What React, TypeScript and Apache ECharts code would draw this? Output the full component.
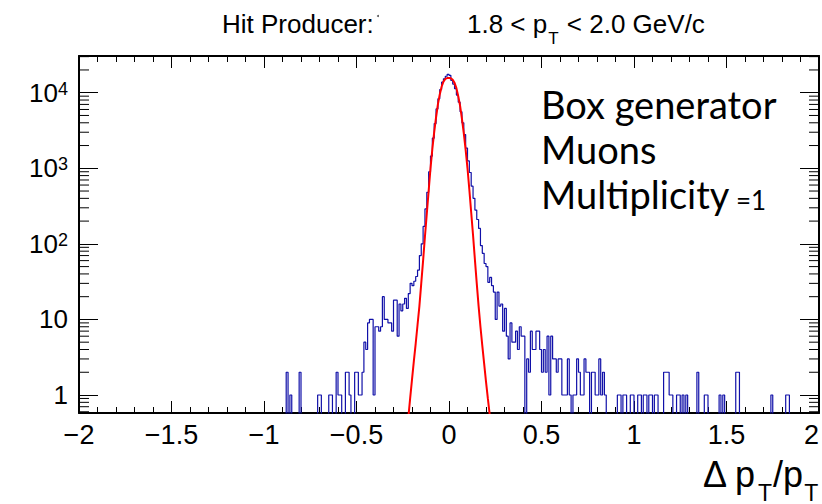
import React, { useEffect, useRef } from 'react';
import * as echarts from 'echarts';

// ---------------- data ----------------
// Histogram of delta pT / pT: bin width 0.01, first listed bin starts at -0.88
const BIN_WIDTH = 0.01;
const FIRST_BIN_LOW_EDGE = -0.88;
const COUNTS: number[] = [
  // -0.88 .. -0.79
  2, 0, 1, 0, 0, 0, 0, 2, 0, 0,
  // -0.78 .. -0.69
  0, 0, 0, 0, 0, 0, 0, 1, 1, 0,
  // -0.68 .. -0.59
  0, 0, 0, 1, 1, 0, 0, 2, 1, 1,
  // -0.58 .. -0.49
  0, 0, 2, 2, 1, 0, 0, 2, 2, 1,
  // -0.48 .. -0.39
  1, 2, 5, 4, 9, 10, 10, 1, 8, 8,
  // -0.38 .. -0.29
  7, 8, 20, 10, 10, 9, 9, 7, 18, 18,
  // -0.28 .. -0.19
  6, 16, 13, 16, 19, 14, 22, 30, 28, 32,
  // -0.18 .. -0.09
  37, 45, 70, 100, 170, 290, 480, 900, 1450, 2500,
  // -0.08 .. 0.01
  3900, 6100, 8300, 11000, 13800, 15300, 16500, 17500, 17000, 14500,
  // 0.02 .. 0.11
  13000, 11300, 9300, 7500, 5600, 4000, 2800, 1850, 1250, 880,
  // 0.12 .. 0.21
  580, 400, 280, 210, 160, 95, 75, 55, 50, 31,
  // 0.22 .. 0.31
  36, 28, 23, 10, 23, 15, 16, 7, 14, 6,
  // 0.32 .. 0.41
  3, 9, 5, 5, 7, 4, 8, 6, 6, 0,
  // 0.42 .. 0.51
  3, 2, 7, 4, 4, 7, 7, 4, 2, 4,
  // 0.52 .. 0.61
  2, 6, 1, 6, 3, 3, 2, 3, 3, 1,
  // 0.62 .. 0.71
  1, 1, 3, 1, 0, 1, 1, 3, 2, 1,
  // 0.72 .. 0.81
  1, 3, 2, 2, 0, 2, 2, 1, 1, 3,
  // 0.82 .. 0.91
  1, 2, 1, 0, 0, 0, 0, 0, 0, 1,
  // 0.92 .. 1.01
  1, 0, 1, 1, 0, 0, 1, 1, 0, 0,
  // 1.02 .. 1.11
  1, 1, 0, 1, 1, 0, 1, 1, 0, 1,
  // 1.12 .. 1.21
  1, 0, 0, 0, 2, 2, 2, 1, 1, 0,
  // 1.22 .. 1.31
  0, 1, 1, 0, 1, 0, 1, 0, 0, 0,
  // 1.32 .. 1.41
  0, 0, 2, 0, 0, 0, 1, 1, 0, 0,
  // 1.42 .. 1.51
  0, 0, 0, 0, 1, 0, 1, 0, 0, 0,
  // 1.52 .. 1.61
  0, 0, 0, 2, 2, 0, 0, 0, 0, 0,
  // 1.62 .. 1.71
  0, 0, 0, 0, 0, 0, 0, 0, 0, 0,
  // 1.72 .. 1.81
  0, 0, 1, 0, 0, 0, 0, 0, 0, 0,
  // 1.82 .. 1.83
  1, 1,
];

// Gaussian fit curve
const FIT_X: number[] = [
  -0.23, -0.22, -0.21, -0.2, -0.19, -0.18, -0.17, -0.16, -0.15, -0.14, -0.13, -0.12,
  -0.11, -0.1, -0.09, -0.08, -0.07, -0.06, -0.05, -0.04, -0.03, -0.02, -0.01, 0,
  0.01, 0.02, 0.03, 0.04, 0.05, 0.06, 0.07, 0.08, 0.09, 0.1, 0.11, 0.12,
  0.13, 0.14, 0.15, 0.16, 0.17, 0.18, 0.19, 0.2, 0.21, 0.22, 0.23,
];
const FIT_Y: number[] = [
  0.25, 0.5, 0.9, 1.6, 2.8, 4.8, 8.5, 15, 30, 60, 125, 250,
  500, 1000, 1800, 3000, 4700, 7000, 9500, 12000, 14000, 15200, 15600, 15600,
  15500, 14800, 13500, 11500, 9000, 6700, 4500, 2900, 1750, 1000, 520, 260,
  130, 62, 30, 15, 8, 4.5, 2.6, 1.5, 0.9, 0.55, 0.3,
];

const X_MIN = -2;
const X_MAX = 2;
const X_TICK_VALUES = [-2, -1.5, -1, -0.5, 0, 0.5, 1, 1.5, 2];
const X_TICK_LABELS = ['\u22122', '\u22121.5', '\u22121', '\u22120.5', '0', '0.5', '1', '1.5', '2'];

const Y_MIN = 0.578;
const Y_MAX = 30600;
const Y_TICK_VALUES = [1, 10, 100, 1000, 10000];
const Y_TICK_BASE = ['1', '10', '10', '10', '10'];
const Y_TICK_EXP = ['', '', '2', '3', '4'];
const Y_MINOR_TICKS = [
  0.6, 0.7, 0.8, 0.9,
  2, 3, 4, 5, 6, 7, 8, 9,
  20, 30, 40, 50, 60, 70, 80, 90,
  200, 300, 400, 500, 600, 700, 800, 900,
  2000, 3000, 4000, 5000, 6000, 7000, 8000, 9000,
  20000, 30000,
];

const TITLE_LEFT = 'Hit Producer:';
const TITLE_RIGHT_A = '1.8 < p';
const TITLE_RIGHT_SUB = 'T';
const TITLE_RIGHT_B = ' < 2.0 GeV/c';
const BOX_LINE_1 = 'Box generator';
const BOX_LINE_2 = 'Muons';
const BOX_LINE_3A = 'Multiplicity';
const BOX_LINE_3B = ' =1';
const X_TITLE = ['\u0394 p', 'T', '/p', 'T'];

// ---------------- styles ----------------
const AXIS_FONT = "'Liberation Sans', Arial, Helvetica, sans-serif";
const BOX_FONT = "Lato, 'Open Sans', sans-serif";
const ZERO_FLOOR = 0.05; // empty bins fall below the visible log range
const BLUE = '#1010a8';
const RED = '#ff0000';
const MINOR_Y_LEN = 10;

function buildHistogram(): [number, number][] {
  const pts: [number, number][] = [];
  pts.push([FIRST_BIN_LOW_EDGE, ZERO_FLOOR]);
  COUNTS.forEach((c, i) => {
    const lo = FIRST_BIN_LOW_EDGE + i * BIN_WIDTH;
    const hi = lo + BIN_WIDTH;
    const v = c > 0 ? c : ZERO_FLOOR;
    pts.push([lo, v], [hi, v]);
  });
  pts.push([FIRST_BIN_LOW_EDGE + COUNTS.length * BIN_WIDTH, ZERO_FLOOR]);
  return pts;
}

function xFormatter(v: number): string {
  const idx = X_TICK_VALUES.findIndex((t) => Math.abs(t - v) < 1e-9);
  return idx >= 0 ? X_TICK_LABELS[idx] : '';
}

function yFormatter(v: number): string {
  const idx = Y_TICK_VALUES.findIndex((t) => Math.abs(Math.log10(t) - Math.log10(v)) < 1e-6);
  if (idx < 0) return '';
  const exp = Y_TICK_EXP[idx];
  return exp ? `{b|${Y_TICK_BASE[idx]}}{s|${exp}}` : `{b|${Y_TICK_BASE[idx]}}`;
}

export default function App() {
  const ref = useRef<HTMLDivElement>(null);

  useEffect(() => {
    if (!ref.current) return;
    const chart = echarts.init(ref.current, undefined, { renderer: 'svg' });

    const axisLine = { show: true, onZero: false, lineStyle: { color: '#000', width: 2 } };
    const xTick = { show: true, inside: true, length: 12, lineStyle: { color: '#000', width: 1 } };
    const xMinor = { show: true, splitNumber: 5, length: 6, lineStyle: { color: '#000', width: 1 } };
    const yTick = { show: true, inside: true, length: 19, lineStyle: { color: '#000', width: 1 } };

    const option: any = {
      animation: false,
      backgroundColor: '#ffffff',
      grid: { left: 79, right: 3, top: 56, bottom: 91, containLabel: false, outerBoundsMode: 'none' },
      xAxis: [
        {
          type: 'value', min: X_MIN, max: X_MAX, interval: 0.5, position: 'bottom',
          axisLine, axisTick: xTick, minorTick: xMinor,
          splitLine: { show: false }, minorSplitLine: { show: false },
          axisLabel: {
            show: true, margin: 8, fontSize: 27, color: '#000', fontFamily: AXIS_FONT,
            formatter: xFormatter, hideOverlap: false, alignMaxLabel: 'right',
          },
        },
        {
          type: 'value', min: X_MIN, max: X_MAX, interval: 0.5, position: 'top',
          axisLine, axisTick: xTick, minorTick: xMinor,
          splitLine: { show: false }, minorSplitLine: { show: false },
          axisLabel: { show: false },
        },
      ],
      yAxis: [
        {
          type: 'log', logBase: 10, min: Y_MIN, max: Y_MAX, position: 'left',
          axisLine, axisTick: yTick,
          splitLine: { show: false },
          axisLabel: {
            show: true, margin: 11, color: '#000', fontFamily: AXIS_FONT,
            formatter: yFormatter,
            rich: {
              b: { fontSize: 26, lineHeight: 26, fontFamily: AXIS_FONT, color: '#000', verticalAlign: 'bottom' },
              s: { fontSize: 18, lineHeight: 18, fontFamily: AXIS_FONT, color: '#000', verticalAlign: 'top', padding: [0, 0, 16, 0] },
            },
          },
        },
        {
          type: 'log', logBase: 10, min: Y_MIN, max: Y_MAX, position: 'right',
          axisLine, axisTick: yTick,
          splitLine: { show: false },
          axisLabel: { show: false },
        },
      ],
      series: [
        {
          type: 'custom',
          silent: true,
          z: 5,
          data: Y_MINOR_TICKS.map((v) => [X_MIN, v]),
          encode: { x: 0, y: 1 },
          renderItem: (_params: any, api: any) => {
            const v = api.value(1);
            const p = api.coord([X_MIN, v]);
            const q = api.coord([X_MAX, v]);
            return {
              type: 'group',
              children: [
                { type: 'line', shape: { x1: p[0], y1: p[1], x2: p[0] + MINOR_Y_LEN, y2: p[1] }, style: { stroke: '#000', lineWidth: 1 } },
                { type: 'line', shape: { x1: q[0] - MINOR_Y_LEN, y1: q[1], x2: q[0], y2: q[1] }, style: { stroke: '#000', lineWidth: 1 } },
              ],
            };
          },
        },
        {
          type: 'line',
          data: buildHistogram(),
          symbol: 'none',
          clip: true,
          z: 2,
          lineStyle: { color: BLUE, width: 1.2 },
        },
        {
          type: 'line',
          data: FIT_X.map((x, i) => [x, FIT_Y[i]]),
          symbol: 'none',
          clip: true,
          z: 3,
          lineStyle: { color: RED, width: 2 },
        },
      ],
      graphic: [
        {
          type: 'text', x: 222, y: 24,
          style: { text: TITLE_LEFT, fontSize: 26, fontFamily: AXIS_FONT, fill: '#000', align: 'left', verticalAlign: 'middle' },
        },
        { type: 'circle', shape: { cx: 378, cy: 16, r: 1 }, style: { fill: '#555' } },
        {
          type: 'text', x: 467, y: 11,
          style: {
            text: `{a|${TITLE_RIGHT_A}}{s|${TITLE_RIGHT_SUB}}{a|${TITLE_RIGHT_B}}`,
            align: 'left', verticalAlign: 'top',
            rich: {
              a: { fontSize: 26, lineHeight: 26, fontFamily: AXIS_FONT, fill: '#000', verticalAlign: 'top' },
              s: { fontSize: 17, lineHeight: 17, fontFamily: AXIS_FONT, fill: '#000', verticalAlign: 'top', padding: [19, 1, 0, 1] },
            },
          },
        },
        {
          type: 'text', x: 541, y: 104,
          style: { text: BOX_LINE_1, fontSize: 38, fontFamily: BOX_FONT, fill: '#000', align: 'left', verticalAlign: 'middle' },
        },
        {
          type: 'text', x: 541, y: 149,
          style: { text: BOX_LINE_2, fontSize: 38, fontFamily: BOX_FONT, fill: '#000', align: 'left', verticalAlign: 'middle' },
        },
        {
          type: 'text', x: 541, y: 213,
          style: {
            text: `{m|${BOX_LINE_3A}}{e|${BOX_LINE_3B}}`,
            align: 'left', verticalAlign: 'bottom',
            rich: {
              m: { fontSize: 38, lineHeight: 40, fontFamily: BOX_FONT, fill: '#000', verticalAlign: 'bottom' },
              e: { fontSize: 26, lineHeight: 30, fontFamily: BOX_FONT, fill: '#000', verticalAlign: 'bottom' },
            },
          },
        },
        {
          type: 'text', x: 703, y: 456,
          style: {
            text: `{a|${X_TITLE[0]}}{s|${X_TITLE[1]}}{a|${X_TITLE[2]}}{s|${X_TITLE[3]}}`,
            align: 'left', verticalAlign: 'top',
            rich: {
              a: { fontSize: 36, lineHeight: 36, fontFamily: AXIS_FONT, fill: '#000', verticalAlign: 'top' },
              s: { fontSize: 23, lineHeight: 23, fontFamily: AXIS_FONT, fill: '#000', verticalAlign: 'top', padding: [25, 1, 0, 1] },
            },
          },
        },
      ],
    };

    chart.setOption(option);
    return () => chart.dispose();
  }, []);

  return <div ref={ref} style={{ position: 'absolute', left: 0, top: 0, width: 822, height: 504, background: '#fff' }} />;
}
